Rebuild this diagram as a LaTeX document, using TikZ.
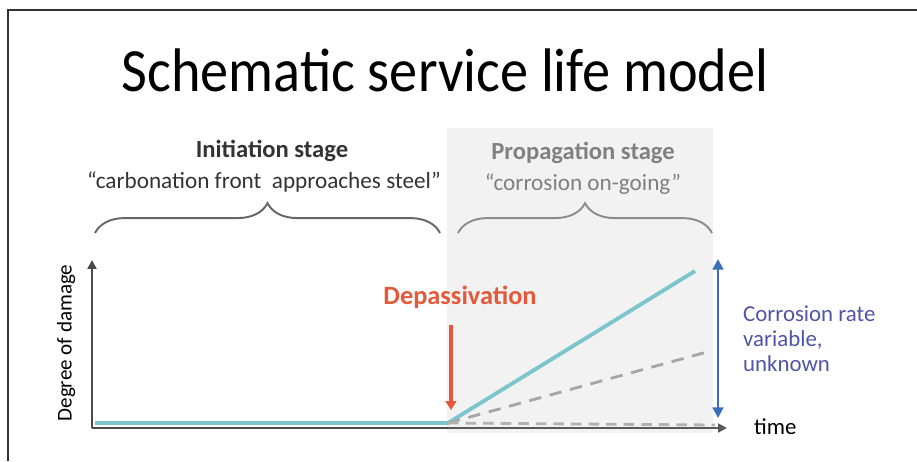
\documentclass[tikz,border=0pt]{standalone}
\usepackage{fontspec}
\setmainfont{Carlito}
\usetikzlibrary{arrows.meta,decorations.pathreplacing,positioning}
\definecolor{tealline}{HTML}{7CC5CC}
\definecolor{depred}{HTML}{E4593A}
\definecolor{rateblue}{HTML}{3A70B8}
\definecolor{ratetext}{HTML}{5054A6}
\definecolor{propgray}{HTML}{F2F2F2}
\definecolor{axisgray}{HTML}{4A4A4A}
\tikzset{
  stagehead/.style={font=\fontsize{14}{16}\selectfont\bfseries},
  stagequote/.style={font=\fontsize{13.2}{15}\selectfont},
  stagebrace/.style={decorate,decoration={brace,amplitude=17pt},line width=1.1pt},
  axisline/.style={line width=1.3pt,axisgray,-{Triangle[length=5pt,width=5pt]}}
}
\begin{document}
\begin{tikzpicture}[x=0.02cm,y=-0.02cm]
  \useasboundingbox (0,0) rectangle (917,461);
  % frame
  \draw[line width=1pt,black!80] (8,461) -- (8,10) -- (917,10);
  % propagation background
  \fill[propgray] (447,128) rectangle (713,433);
  \node[font=\fontsize{35}{40}\selectfont] (title) at (445,70) {\scalebox{0.915}[1]{Schematic service life model}};
  % stages
  \node[stagehead,black!80] (inithead) at (272,151) {Initiation stage};
  \node[stagequote,black!80] (initquote) at (264,182) {\textquotedblleft carbonation front\ \ approaches steel\textquotedblright};
  \draw[stagebrace,black!60] (95,233) -- (440,233);
  \node[stagehead,black!50] (prophead) at (583,153) {Propagation stage};
  \node[stagequote,black!50] (propquote) at (583,184) {\textquotedblleft corrosion on-going\textquotedblright};
  \draw[stagebrace,black!45] (458,233) -- (712,233);
  % axes
  \coordinate (origin) at (92,428);
  \coordinate (ytip) at (92,260);
  \coordinate (xtip) at (727,428);
  \draw[axisline] (origin) -- (ytip);
  \draw[line width=1.3pt,axisgray] (origin) -- (448,428);
  \draw[axisline,black!65] (448,428) -- (xtip);
  \node[rotate=90,font=\fontsize{12}{14}\selectfont] (ylab) at (66,343) {Degree of damage};
  \node[right,font=\fontsize{13}{15}\selectfont] (xlab) at (748,427) {time};
  % damage curves
  \coordinate (depass) at (448,423);
  \draw[tealline,line width=2.2pt] (95,423) -- (depass) -- (695,271);
  \draw[black!35,line width=1.6pt,dash pattern=on 7pt off 5pt] (depass) -- (707,352);
  \draw[black!30,line width=1.6pt,dash pattern=on 6pt off 4pt] (depass) -- (715,425);
  % depassivation
  \node[depred,font=\fontsize{15}{17}\selectfont\bfseries] (deplab) at (460,297) {Depassivation};
  \coordinate (depstart) at (451,325);
  \coordinate (depend) at (451,410);
  \draw[depred,line width=2.2pt,-{Triangle[length=5pt,width=6pt]}] (depstart) -- (depend);
  % corrosion rate
  \coordinate (ratetop) at (718,259);
  \coordinate (ratebot) at (718,418);
  \draw[rateblue,line width=1.6pt,{Triangle[length=6pt,width=6pt]}-{Triangle[length=6pt,width=6pt]}] (ratebot) -- (ratetop);
  \node[ratetext,align=left,anchor=north west,font=\fontsize{13}{14}\selectfont] (ratelab) at (737,300) {Corrosion rate\\variable,\\unknown};
\end{tikzpicture}
\end{document}
